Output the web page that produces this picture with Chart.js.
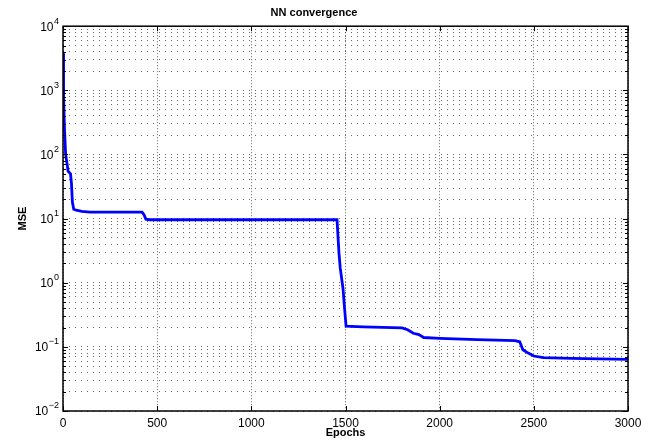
<!DOCTYPE html>
<html>
<head>
<meta charset="utf-8">
<script src="https://cdn.jsdelivr.net/npm/chart.js@4.4.1/dist/chart.umd.min.js"></script>
<style>
  html, body { margin: 0; padding: 0; background: #fff; }
  #wrap { width: 649px; height: 442px; }
</style>
</head>
<body>
<div id="wrap"><canvas id="nnChart"></canvas></div>
<script>
const epochs = [0, 3, 8, 14, 22, 27, 40, 45, 50, 57, 70, 100, 143, 420, 430, 440, 460,
  1455, 1465, 1472, 1487, 1495, 1503, 1593, 1800, 1830, 1860, 1890, 1915, 2000, 2200,
  2400, 2425, 2442, 2470, 2500, 2550, 2700, 3000];
const mse = [3800, 800, 250, 100, 70, 55, 50, 35, 18, 14, 13.5, 13, 12.6, 12.6, 11.5, 9.8, 9.6,
  9.6, 3, 1.7, 0.8, 0.4, 0.21, 0.205, 0.198, 0.185, 0.163, 0.155, 0.14, 0.136, 0.13,
  0.125, 0.12, 0.09, 0.08, 0.072, 0.068, 0.066, 0.064];
const xTicks = [0, 500, 1000, 1500, 2000, 2500, 3000];
const yExponents = [-2, -1, 0, 1, 2, 3, 4];

// every 1..9 x 10^k between 1e-2 and 1e4, for the dotted log grid
const yGridValues = [];
yExponents.forEach(e => {
  for (let m = 1; m <= 9; m++) {
    if (e === 4 && m > 1) break;
    yGridValues.push(m * Math.pow(10, e));
  }
});

const gridDots = "rgba(0,0,0,0.6)";

// black box, inward ticks and 10^n labels, MATLAB style
const axesBox = {
  id: "axesBox",
  afterDraw(chart) {
    const { ctx, chartArea: a, scales } = chart;
    const x = scales.x, y = scales.y;
    ctx.save();
    ctx.strokeStyle = "#000";
    ctx.lineWidth = 1;
    ctx.beginPath();
    xTicks.forEach(v => {
      const px = Math.round(x.getPixelForValue(v)) + 0.5;
      ctx.moveTo(px, a.bottom); ctx.lineTo(px, a.bottom - 5);
      ctx.moveTo(px, a.top); ctx.lineTo(px, a.top + 5);
    });
    yGridValues.forEach(v => {
      const py = Math.round(y.getPixelForValue(v)) + 0.5;
      const major = Math.abs(Math.log10(v) % 1) < 1e-9;
      const len = major ? 5 : 3;
      ctx.moveTo(a.left, py); ctx.lineTo(a.left + len, py);
      ctx.moveTo(a.right, py); ctx.lineTo(a.right - len, py);
    });
    ctx.stroke();
    ctx.lineWidth = 1.5;
    ctx.strokeRect(a.left, a.top, a.right - a.left, a.bottom - a.top);

    ctx.fillStyle = "#000";
    ctx.textBaseline = "middle";
    yExponents.forEach(e => {
      const py = y.getPixelForValue(Math.pow(10, e));
      const expText = e < 0 ? "\u2212" + Math.abs(e) : String(e);
      ctx.font = "9px 'Liberation Sans', Arial, sans-serif";
      const expW = ctx.measureText(expText).width;
      const right = a.left - 4;
      ctx.textAlign = "right";
      ctx.fillText(expText, right, py - 5);
      ctx.font = "12px 'Liberation Sans', Arial, sans-serif";
      ctx.fillText("10", right - expW - 0.5, py + 1);
    });
    ctx.restore();
  }
};

new Chart(document.getElementById("nnChart"), {
  type: "line",
  data: {
    datasets: [{
      data: epochs.map((e, i) => ({ x: e, y: mse[i] })),
      borderColor: "#0000ff",
      borderWidth: 2.8,
      pointRadius: 0,
      tension: 0,
      fill: false
    }]
  },
  options: {
    responsive: true,
    maintainAspectRatio: false,
    animation: false,
    layout: { padding: { left: 0, right: 21, top: 0, bottom: 0 } },
    scales: {
      x: {
        type: "linear",
        min: 0,
        max: 3000,
        afterBuildTicks: s => { s.ticks = xTicks.map(v => ({ value: v })); },
        afterFit: s => { s.height = 31; },
        ticks: {
          color: "#000",
          padding: 5,
          maxRotation: 0,
          callback: v => String(v),
          font: { family: "'Liberation Sans', Arial, sans-serif", size: 12 }
        },
        grid: { color: gridDots, lineWidth: 1, drawTicks: false },
        border: { display: false, dash: [1, 2] },
        title: {
          display: true,
          text: "Epochs",
          color: "#000",
          padding: { top: 0, bottom: 2 },
          font: { family: "'Liberation Sans', Arial, sans-serif", size: 11, weight: "bold" }
        }
      },
      y: {
        type: "logarithmic",
        min: 0.01,
        max: 10000,
        afterBuildTicks: s => { s.ticks = yGridValues.map(v => ({ value: v })); },
        afterFit: s => { s.width = 63; },
        ticks: { display: false },
        grid: { color: gridDots, lineWidth: 1, drawTicks: false },
        border: { display: false, dash: [1, 5] },
        title: {
          display: true,
          text: "MSE",
          color: "#000",
          padding: { top: 16, bottom: 0 },
          font: { family: "'Liberation Sans', Arial, sans-serif", size: 11, weight: "bold" }
        }
      }
    },
    plugins: {
      legend: { display: false },
      tooltip: { enabled: false },
      title: {
        display: true,
        text: "NN convergence",
        color: "#000",
        padding: { top: 6, bottom: 7 },
        font: { family: "'Liberation Sans', Arial, sans-serif", size: 11, weight: "bold" }
      }
    }
  },
  plugins: [axesBox]
});
</script>
</body>
</html>
